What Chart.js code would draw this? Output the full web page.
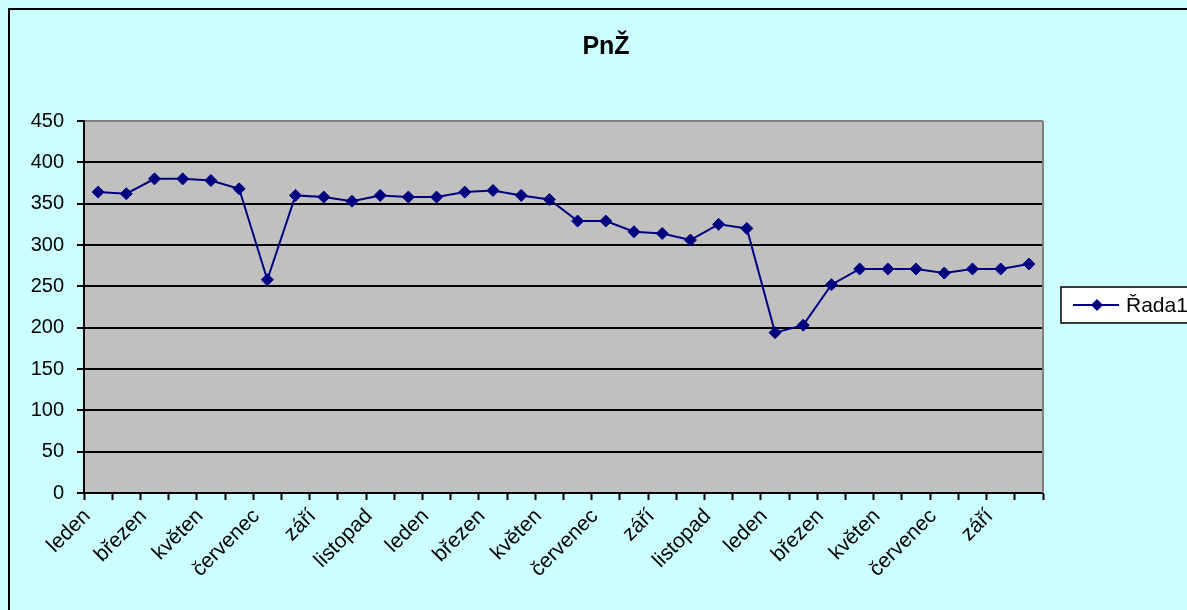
<!DOCTYPE html>
<html>
<head>
<meta charset="utf-8">
<script src="https://cdn.jsdelivr.net/npm/chart.js@4/dist/chart.umd.min.js"></script>
<style>
  html, body { margin: 0; padding: 0; background: #CCFFFF; }
  #wrap { position: relative; width: 1187px; height: 610px; }
</style>
</head>
<body>
<div id="wrap"><canvas id="chart" width="1187" height="610"></canvas></div>
<script>
// PnŽ - monthly values, Jan of year 1 to Oct of year 3
const chartTitle = "PnŽ";
const seriesName = "Řada1";
const months = [
    "leden", "únor", "březen", "duben", "květen", "červen", "červenec", "srpen", "září", "říjen", "listopad", "prosinec",
    "leden", "únor", "březen", "duben", "květen", "červen", "červenec", "srpen", "září", "říjen", "listopad", "prosinec",
    "leden", "únor", "březen", "duben", "květen", "červen", "červenec", "srpen", "září", "říjen"
];
const values = [
    364, 362, 380, 380, 378, 368, 258, 360, 358, 353, 360, 358,
    358, 364, 366, 360, 355, 329, 329, 316, 314, 306, 325, 320,
    194, 203, 252, 271, 271, 271, 266, 271, 271, 277
];
const yTicks = { min: 0, max: 450, step: 50 };

const FONT = "'Liberation Sans', Arial, sans-serif";
const NAVY = "#000080";

// background, plot fill, outer frame
const backdrop = {
    id: "backdrop",
    beforeDraw(chart) {
        const { ctx, chartArea: a } = chart;
        ctx.save();
        ctx.fillStyle = "#CCFFFF";
        ctx.fillRect(0, 0, chart.width, chart.height);
        ctx.fillStyle = "#C0C0C0";
        ctx.fillRect(a.left, a.top, a.right - a.left, a.bottom - a.top);
        ctx.strokeStyle = "#000";
        ctx.lineWidth = 2;
        ctx.beginPath();
        ctx.moveTo(9, chart.height + 5);
        ctx.lineTo(9, 9);
        ctx.lineTo(chart.width + 5, 9);
        ctx.stroke();
        ctx.restore();
    },
    afterDraw(chart) {
        const { ctx, chartArea: a } = chart;
        ctx.save();
        // right edge of plot
        ctx.strokeStyle = "#808080";
        ctx.lineWidth = 2;
        ctx.beginPath();
        ctx.moveTo(a.right, a.top);
        ctx.lineTo(a.right, a.bottom);
        ctx.stroke();

        // title
        ctx.fillStyle = "#000";
        ctx.font = "bold 25px " + FONT;
        ctx.textAlign = "center";
        ctx.textBaseline = "middle";
        ctx.fillText(chartTitle, 606, 47);

        // legend box
        const bx = 1061, by = 287, bw = 140, bh = 36;
        ctx.fillStyle = "#fff";
        ctx.fillRect(bx, by, bw, bh);
        ctx.strokeStyle = "#000";
        ctx.lineWidth = 1.5;
        ctx.strokeRect(bx, by, bw, bh);
        const ly = by + bh / 2;
        ctx.strokeStyle = NAVY;
        ctx.lineWidth = 2;
        ctx.beginPath();
        ctx.moveTo(1073, ly);
        ctx.lineTo(1119, ly);
        ctx.stroke();
        ctx.fillStyle = NAVY;
        ctx.beginPath();
        ctx.moveTo(1097, ly - 6);
        ctx.lineTo(1103, ly);
        ctx.lineTo(1097, ly + 6);
        ctx.lineTo(1091, ly);
        ctx.closePath();
        ctx.fill();
        ctx.fillStyle = "#000";
        ctx.font = "21px " + FONT;
        ctx.textAlign = "left";
        ctx.fillText(seriesName, 1126, ly + 1);
        ctx.restore();
    }
};

new Chart(document.getElementById("chart"), {
    type: "line",
    data: {
        labels: months,
        datasets: [{
            label: seriesName,
            data: values,
            borderColor: NAVY,
            backgroundColor: NAVY,
            borderWidth: 2,
            pointStyle: "rectRot",
            pointRadius: 6,
            pointBorderWidth: 1,
            pointBackgroundColor: NAVY,
            pointBorderColor: NAVY,
            tension: 0,
            fill: false
        }]
    },
    options: {
        responsive: false,
        animation: false,
        layout: { padding: { left: 9, top: 121, right: 144, bottom: 0 } },
        plugins: {
            legend: { display: false },
            title: { display: false },
            tooltip: { enabled: false }
        },
        scales: {
            x: {
                offset: true,
                grid: {
                    offset: true,
                    drawOnChartArea: false,
                    drawTicks: true,
                    tickLength: 7,
                    tickColor: "#000",
                    tickWidth: 2
                },
                border: { color: "#000", width: 2 },
                ticks: {
                    autoSkip: false,
                    minRotation: 45,
                    maxRotation: 45,
                    padding: 4,
                    labelOffset: -11,
                    color: "#000",
                    font: { family: FONT, size: 21 },
                    callback: (v, i) => (i % 2 === 0 ? months[i] : "")
                },
                afterFit(scale) { scale.height = 117; }
            },
            y: {
                min: yTicks.min,
                max: yTicks.max,
                grid: {
                    color: ctx => (ctx.tick && ctx.tick.value === yTicks.max ? "#808080" : "#000"),
                    lineWidth: 2,
                    tickLength: 7,
                    tickColor: "#000",
                    tickWidth: 2
                },
                border: { color: "#000", width: 2 },
                ticks: {
                    stepSize: yTicks.step,
                    padding: 13,
                    color: "#000",
                    font: { family: FONT, size: 20 }
                },
                afterFit(scale) { scale.width = 75; }
            }
        }
    },
    plugins: [backdrop]
});
</script>
</body>
</html>
